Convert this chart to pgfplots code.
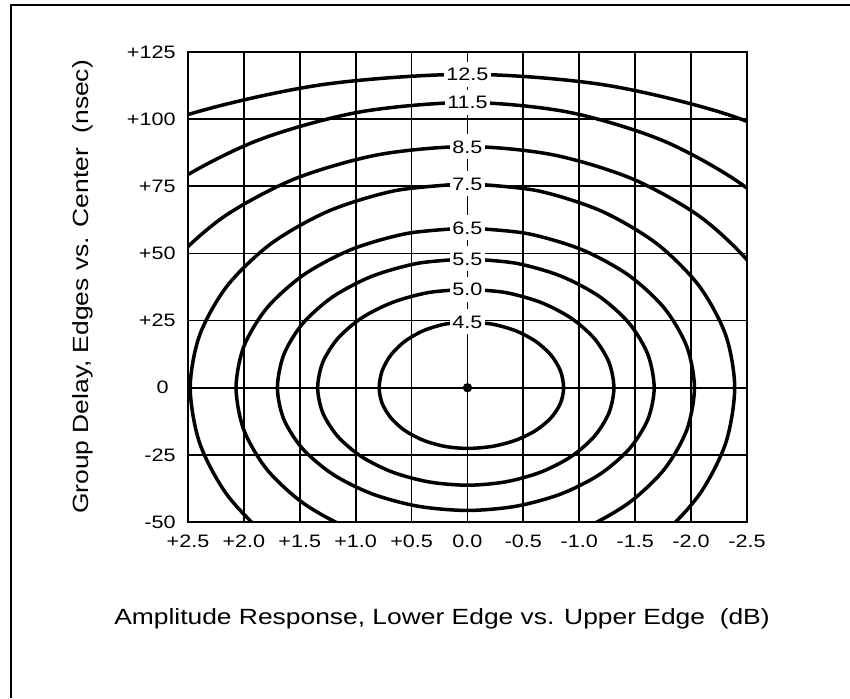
\documentclass[border=0pt]{standalone}
\usepackage{fontspec}
\setmainfont[FakeStretch=1.2]{Liberation Sans}
\usepackage{pgfplots}
\pgfplotsset{compat=1.18}
\begin{document}
\begin{tikzpicture}[x=1pt,y=1pt]
\useasboundingbox (0,0) rectangle (425,349);
\draw[line width=0.9pt] (5.3,0) -- (5.3,346.5) -- (425,346.5);
\begin{axis}[
  at={(94pt,88pt)}, anchor=south west,
  scale only axis, width=279.5pt, height=235pt,
  xmin=-2.5, xmax=2.5, ymin=-50, ymax=125,
  x dir=reverse,
  xtick={-2.5,-2,-1.5,-1,-0.5,0,0.5,1,1.5,2,2.5},
  xticklabels={-2.5,-2.0,-1.5,-1.0,-0.5,0.0,+0.5,+1.0,+1.5,+2.0,+2.5},
  ytick={-50,-25,0,25,50,75,100,125},
  yticklabels={-50,-25,0\kern3.5pt,+25,+50,+75,+100,+125},
  xmajorgrids, ymajorgrids,
  major grid style={black, line width=0.9pt, solid},
  axis line style={black, line width=0.9pt},
  major tick length=0pt,
  tick label style={font=\fontsize{9pt}{10pt}\selectfont, black},
  xticklabel style={anchor=north, inner sep=0pt, yshift=-6.5pt},
  yticklabel style={anchor=east, inner sep=0pt, xshift=-6pt},
  cv/.style={black, line width=1.75pt, smooth, solid, mark=none},
]
% 4.5
\addplot[cv] coordinates {(0,24.5) (-0.223,23.66) (-0.43,21.22) (-0.608,17.32) (-0.745,12.25) (-0.831,6.34) (-0.86,0) (-0.831,-5.85) (-0.745,-11.3) (-0.608,-15.98) (-0.43,-19.57) (-0.223,-21.83) (0,-22.6) (0.204,-21.83) (0.395,-19.57) (0.559,-15.98) (0.684,-11.3) (0.763,-5.85) (0.79,0) (0.763,6.34) (0.684,12.25) (0.559,17.32) (0.395,21.22) (0.204,23.66) (0,24.5)};
% 5.0
\addplot[cv] coordinates {(0,36.7) (-0.339,35.45) (-0.655,31.78) (-0.926,25.95) (-1.134,18.35) (-1.265,9.50) (-1.31,0) (-1.265,-9.39) (-1.134,-18.15) (-0.926,-25.67) (-0.655,-31.44) (-0.339,-35.06) (0,-36.3) (0.347,-35.06) (0.67,-31.44) (0.948,-25.67) (1.160,-18.15) (1.294,-9.39) (1.34,0) (1.294,9.50) (1.160,18.35) (0.948,25.95) (0.67,31.78) (0.347,35.45) (0,36.7)};
% 5.5
\addplot[cv] coordinates {(0,48) (-0.432,46.36) (-0.835,41.57) (-1.181,33.94) (-1.446,24) (-1.613,12.42) (-1.67,0) (-1.613,-11.83) (-1.446,-22.85) (-1.181,-32.31) (-0.835,-39.58) (-0.432,-44.14) (0,-45.7) (0.44,-44.14) (0.85,-39.58) (1.202,-32.31) (1.472,-22.85) (1.642,-11.83) (1.70,0) (1.642,12.42) (1.472,24) (1.202,33.94) (0.85,41.57) (0.44,46.36) (0,48)};
% 6.5
\addplot[cv] coordinates {(0,59.5) (-0.525,57.47) (-1.015,51.53) (-1.435,42.07) (-1.758,29.75) (-1.961,15.40) (-2.03,0) (-1.961,-15.79) (-1.758,-30.5) (-1.435,-43.13) (-1.015,-52.83) (-0.525,-58.92) (0,-61) (0.536,-58.92) (1.035,-52.83) (1.464,-43.13) (1.793,-30.5) (2.0,-15.79) (2.07,0) (2.0,15.40) (1.793,29.75) (1.464,42.07) (1.035,51.53) (0.536,57.47) (0,59.5)};
% 7.5
\addplot[cv] coordinates {(0,76) (-0.619,73.41) (-1.195,65.82) (-1.69,53.74) (-2.07,38) (-2.309,19.67) (-2.39,0) (-2.309,-20.70) (-2.07,-40) (-1.69,-56.57) (-1.195,-69.28) (-0.619,-77.27) (0,-80) (0.642,-77.27) (1.24,-69.28) (1.754,-56.57) (2.148,-40) (2.395,-20.70) (2.48,0) (2.395,19.67) (2.148,38) (1.754,53.74) (1.24,65.82) (0.642,73.41) (0,76)};
% 8.5
\addplot[cv] coordinates {(-2.95,0) (-2.849,23.24) (-2.555,44.9) (-2.086,63.5) (-1.475,77.77) (-0.763,86.74) (0,89.8) (0.80,86.74) (1.545,77.77) (2.185,63.5) (2.676,44.9) (2.985,23.24) (3.09,0)};
% 11.5
\addplot[cv] coordinates {(-3.5,0) (-3.381,27.49) (-3.031,53.1) (-2.475,75.09) (-1.75,91.97) (-0.906,102.58) (0,106.2) (0.976,102.58) (1.885,91.97) (2.666,75.09) (3.265,53.1) (3.641,27.49) (3.77,0)};
% 12.5
\addplot[cv] coordinates {(-4.75,0) (-4.588,30.2) (-4.114,58.35) (-3.359,82.52) (-2.375,101.06) (-1.229,112.72) (0,116.7) (1.32,112.72) (2.55,101.06) (3.606,82.52) (4.417,58.35) (4.926,30.2) (5.1,0)};
% centre dot
\addplot[only marks, mark=*, mark size=2.1pt, black] coordinates {(0,0)};
\tikzset{clab/.style={fill=white, inner xsep=1.2pt, inner ysep=3pt, text height=6.5pt, text depth=0pt, font=\fontsize{9pt}{10pt}\selectfont}}
\node[clab] at (axis cs:0,116.7) {12.5};
\node[clab] at (axis cs:0,106.2) {11.5};
\node[clab] at (axis cs:0,89.8) {8.5};
\node[clab] at (axis cs:0,76) {7.5};
\node[clab] at (axis cs:0,59.5) {6.5};
\node[clab] at (axis cs:0,48) {5.5};
\node[clab] at (axis cs:0,36.7) {5.0};
\node[clab] at (axis cs:0,24.5) {4.5};
\end{axis}
\node[rotate=90, font=\fontsize{11pt}{13pt}\selectfont] at (41.5,205.5) {Group Delay, Edges vs. Center\ \ (nsec)};
\node[font=\fontsize{11pt}{13pt}\selectfont] at (221,39.5) {Amplitude Response, Lower Edge vs. Upper Edge\ \ (dB)};
\end{tikzpicture}
\end{document}
